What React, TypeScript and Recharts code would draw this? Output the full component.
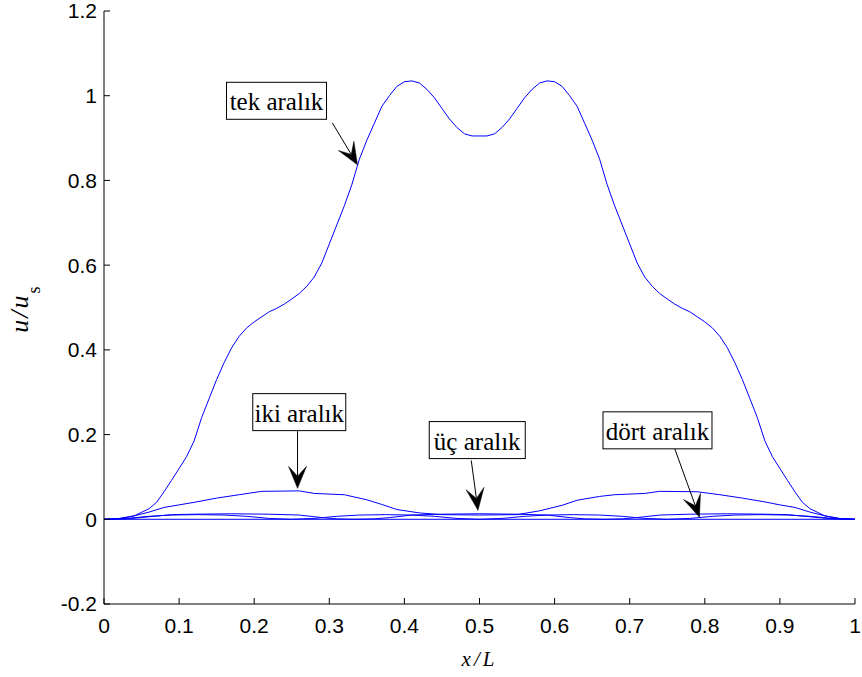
import React from 'react';
import { LineChart, Line, XAxis, YAxis, ReferenceLine, ReferenceDot } from 'recharts';

// ---- data ----
const xTicks = [0, 0.1, 0.2, 0.3, 0.4, 0.5, 0.6, 0.7, 0.8, 0.9, 1];
const yTicks = [-0.2, 0, 0.2, 0.4, 0.6, 0.8, 1, 1.2];

const tekX = [0, 0.02, 0.04, 0.06, 0.07, 0.08, 0.09, 0.1, 0.11, 0.12, 0.13, 0.14, 0.15, 0.16, 0.17, 0.18, 0.19, 0.2, 0.21, 0.22, 0.23, 0.24, 0.25, 0.26, 0.27, 0.28, 0.29, 0.3, 0.31, 0.32, 0.33, 0.34, 0.35, 0.36, 0.37, 0.38, 0.39, 0.4, 0.41, 0.42, 0.43, 0.44, 0.45, 0.46, 0.47, 0.48, 0.49, 0.5,
  0.51, 0.52, 0.53, 0.54, 0.55, 0.56, 0.57, 0.58, 0.59, 0.6, 0.61, 0.62, 0.63, 0.64, 0.65, 0.66, 0.67, 0.68, 0.69, 0.7, 0.71, 0.72, 0.73, 0.74, 0.75, 0.76, 0.77, 0.78, 0.79, 0.8, 0.81, 0.82, 0.83, 0.84, 0.85, 0.86, 0.87, 0.88, 0.89, 0.9, 0.91, 0.92, 0.93, 0.94, 0.96, 0.98, 1];
const tekY = [0, 0.002, 0.008, 0.025, 0.04, 0.065, 0.092, 0.12, 0.148, 0.185, 0.24, 0.285, 0.33, 0.37, 0.405, 0.432, 0.452, 0.466, 0.478, 0.49, 0.498, 0.508, 0.52, 0.533, 0.55, 0.572, 0.605, 0.65, 0.695, 0.74, 0.79, 0.85, 0.895, 0.935, 0.975, 1.0, 1.022, 1.033, 1.035, 1.03, 1.015, 0.995, 0.97, 0.945, 0.925, 0.91, 0.905, 0.905,
  0.905, 0.91, 0.925, 0.945, 0.97, 0.995, 1.015, 1.03, 1.035, 1.033, 1.022, 1.0, 0.975, 0.935, 0.895, 0.85, 0.79, 0.74, 0.695, 0.65, 0.605, 0.572, 0.55, 0.533, 0.52, 0.508, 0.498, 0.49, 0.478, 0.466, 0.452, 0.432, 0.405, 0.37, 0.33, 0.285, 0.24, 0.185, 0.148, 0.12, 0.092, 0.065, 0.04, 0.025, 0.008, 0.002, 0];

const ikiX = [0, 0.02, 0.04, 0.06, 0.08, 0.1, 0.12, 0.15, 0.18, 0.21, 0.26, 0.28, 0.32, 0.35, 0.37, 0.39, 0.42, 0.45, 0.5, 0.55, 0.58, 0.61, 0.63, 0.66, 0.68, 0.72, 0.74, 0.79, 0.82, 0.85, 0.88, 0.9, 0.92, 0.94, 0.96, 0.98, 1];
const ikiY = [0, 0.001, 0.008, 0.017, 0.028, 0.034, 0.04, 0.05, 0.058, 0.066, 0.067, 0.061, 0.058, 0.046, 0.035, 0.023, 0.015, 0.011, 0.01, 0.011, 0.02, 0.033, 0.045, 0.054, 0.058, 0.061, 0.066, 0.065, 0.058, 0.05, 0.041, 0.034, 0.028, 0.017, 0.008, 0.001, 0];

const ucX = [0, 0.03, 0.06, 0.09, 0.12, 0.17, 0.22, 0.26, 0.29, 0.31, 0.333, 0.36, 0.38, 0.41, 0.45, 0.5, 0.55, 0.59, 0.62, 0.64, 0.667, 0.69, 0.71, 0.74, 0.78, 0.83, 0.88, 0.91, 0.94, 0.97, 1];
const ucY = [0, 0.001, 0.006, 0.011, 0.012, 0.013, 0.012, 0.01, 0.004, 0.001, 0, 0.001, 0.004, 0.01, 0.012, 0.013, 0.012, 0.01, 0.004, 0.001, 0, 0.001, 0.004, 0.01, 0.012, 0.013, 0.012, 0.011, 0.006, 0.001, 0];

const dortX = [0, 0.03, 0.06, 0.09, 0.125, 0.16, 0.19, 0.22, 0.25, 0.28, 0.31, 0.34, 0.375, 0.41, 0.44, 0.47, 0.5, 0.53, 0.56, 0.59, 0.625, 0.66, 0.69, 0.72, 0.75, 0.78, 0.81, 0.84, 0.875, 0.91, 0.94, 0.97, 1];
const dortY = [0, 0.002, 0.007, 0.01, 0.011, 0.01, 0.007, 0.002, 0, 0.002, 0.007, 0.01, 0.011, 0.01, 0.007, 0.002, 0, 0.002, 0.007, 0.01, 0.011, 0.01, 0.007, 0.002, 0, 0.002, 0.007, 0.01, 0.011, 0.01, 0.007, 0.002, 0];

// annotations (data coordinates)
const noteText = ['tek aralık', 'iki aralık', 'üç aralık', 'dört aralık'];
const noteBoxX = [0.2297, 0.26, 0.497, 0.737];
const noteBoxY = [0.988, 0.253, 0.187, 0.21];
const noteFromX = [0.304, 0.2577, 0.489, 0.7597];
const noteFromY = [0.936, 0.208, 0.139, 0.168];
const noteToX = [0.3375, 0.2577, 0.498, 0.7929];
const noteToY = [0.837, 0.073, 0.021, 0.005];

// ---- styles ----
const BLUE = '#0000ff';
const boxW = [100, 93, 96, 109];
const boxH = 37;

const pts = (xs: number[], ys: number[]) => xs.map((x, i) => ({ x, y: ys[i] }));

const tickFont = { fontSize: 21, fill: '#000', fontFamily: 'Liberation Sans, Arial, sans-serif' };

const fmt = (v: number) => String(Math.round(v * 10) / 10);

const Nothing = () => <g />;

const makeBox = (i: number) => (props: any) => {
  const { cx, cy } = props;
  const w = boxW[i];
  return (
    <g>
      <rect x={cx - w / 2} y={cy - boxH / 2} width={w} height={boxH} fill="#fff" stroke="#000" strokeWidth={1} />
      <text x={cx} y={cy + 1} textAnchor="middle" dominantBaseline="central" fontFamily="Liberation Serif, Times New Roman, serif" fontSize={25} fill="#000">
        {noteText[i]}
      </text>
    </g>
  );
};

const arrowShape = (props: any) => {
  const { x1, y1, x2, y2 } = props;
  const dx = x2 - x1;
  const dy = y2 - y1;
  const len = Math.sqrt(dx * dx + dy * dy) || 1;
  const ux = dx / len;
  const uy = dy / len;
  const nx = -uy;
  const ny = ux;
  const L = 22;
  const W = 18;
  const bx = x2 - L * ux;
  const by = y2 - L * uy;
  const mx = x2 - 0.55 * L * ux;
  const my = y2 - 0.55 * L * uy;
  const p = `${x2},${y2} ${bx + (W / 2) * nx},${by + (W / 2) * ny} ${mx},${my} ${bx - (W / 2) * nx},${by - (W / 2) * ny}`;
  return (
    <g>
      <line x1={x1} y1={y1} x2={mx} y2={my} stroke="#000" strokeWidth={1} />
      <polygon points={p} fill="#000" stroke="#000" strokeWidth={0.5} />
    </g>
  );
};

const XTitle = (props: any) => {
  const vb = props.viewBox || { x: 104, y: 604, width: 751, height: 30 };
  const cx = vb.x + vb.width / 2;
  return (
    <text x={cx} y={666} textAnchor="middle" fontFamily="Liberation Serif, Times New Roman, serif" fontSize={21} fontStyle="italic" letterSpacing={3} fill="#000">
      x/L
    </text>
  );
};

const YTitle = (props: any) => {
  const vb = props.viewBox || { x: 44, y: 11, width: 60, height: 593 };
  const cx = 28;
  const cy = vb.y + vb.height / 2 + 2;
  return (
    <text x={cx} y={cy} transform={`rotate(-90 ${cx} ${cy})`} textAnchor="middle" fontFamily="Liberation Serif, Times New Roman, serif" fontSize={26} fill="#000">
      <tspan fontStyle="italic" letterSpacing={2}>u/u</tspan>
      <tspan fontSize={18} dy={12}>s</tspan>
    </text>
  );
};

export default function App() {
  return (
    <div style={{ position: 'absolute', left: 0, top: 0, width: 862, height: 677, background: '#fff' }}>
      <LineChart width={862} height={677} margin={{ top: 11, right: 7, bottom: 43, left: 44 }}>
        <XAxis
          dataKey="x"
          type="number"
          domain={[0, 1]}
          ticks={xTicks}
          tickFormatter={fmt}
          allowDuplicatedCategory={false}
          height={30}
          tickSize={-6}
          tickMargin={20}
          tick={tickFont}
          axisLine={{ stroke: '#000' }}
          tickLine={{ stroke: '#000' }}
          interval={0}
          label={<XTitle />}
        />
        <XAxis
          xAxisId="top"
          orientation="top"
          dataKey="x"
          type="number"
          domain={[0, 1]}
          ticks={xTicks}
          height={0}
          tickSize={-6}
          tick={Nothing}
          axisLine={{ stroke: '#000' }}
          tickLine={{ stroke: '#000' }}
          interval={0}
        />
        <YAxis
          type="number"
          domain={[-0.2, 1.2]}
          ticks={yTicks}
          tickFormatter={fmt}
          width={60}
          tickSize={-6}
          tickMargin={13}
          tick={tickFont}
          axisLine={{ stroke: '#000' }}
          tickLine={{ stroke: '#000' }}
          interval={0}
          label={<YTitle />}
        />
        <YAxis
          yAxisId="right"
          orientation="right"
          type="number"
          domain={[-0.2, 1.2]}
          ticks={yTicks}
          width={0}
          tickSize={-6}
          tick={Nothing}
          axisLine={{ stroke: '#000' }}
          tickLine={{ stroke: '#000' }}
          interval={0}
        />
        <ReferenceLine y={0} stroke={BLUE} strokeWidth={1} />
        <Line data={pts(dortX, dortY)} dataKey="y" type="linear" stroke={BLUE} strokeWidth={1} dot={false} isAnimationActive={false} />
        <Line data={pts(ucX, ucY)} dataKey="y" type="linear" stroke={BLUE} strokeWidth={1} dot={false} isAnimationActive={false} />
        <Line data={pts(ikiX, ikiY)} dataKey="y" type="linear" stroke={BLUE} strokeWidth={1} dot={false} isAnimationActive={false} />
        <Line data={pts(tekX, tekY)} dataKey="y" type="linear" stroke={BLUE} strokeWidth={1} dot={false} isAnimationActive={false} />
        {noteText.map((_, i) => (
          <ReferenceLine
            key={'a' + i}
            segment={[{ x: noteFromX[i], y: noteFromY[i] }, { x: noteToX[i], y: noteToY[i] }]}
            ifOverflow="visible"
            shape={arrowShape}
          />
        ))}
        {noteText.map((_, i) => (
          <ReferenceDot key={'b' + i} x={noteBoxX[i]} y={noteBoxY[i]} ifOverflow="visible" shape={makeBox(i)} />
        ))}
      </LineChart>
    </div>
  );
}
